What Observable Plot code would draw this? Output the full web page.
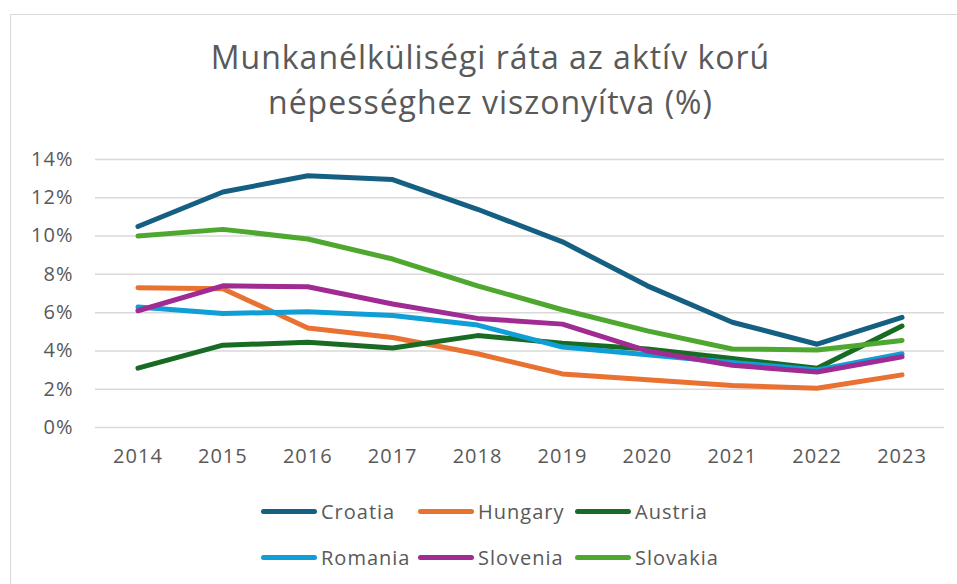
<!DOCTYPE html>
<html>
<head>
<meta charset="utf-8">
<script src="https://cdn.jsdelivr.net/npm/d3@7"></script>
<script src="https://cdn.jsdelivr.net/npm/@observablehq/plot@0.6"></script>
<style>
  html, body { margin: 0; padding: 0; background: #fff; overflow: hidden; }
  #root { position: relative; width: 957px; height: 584px; font-family: "Open Sans", sans-serif; color: #595959; }
  #frame { position: absolute; left: 10px; top: 14px; width: 980px; height: 600px; border: 1.5px solid #d9d9d9; box-sizing: border-box; }
  #title { position: absolute; left: 0; top: 34px; width: 981px; text-align: center; font-size: 32px; line-height: 45px; letter-spacing: 1px; }
  #plot { position: absolute; left: 0; top: 130px; }
  .leg { position: absolute; display: flex; align-items: center; font-size: 20px; height: 30px; letter-spacing: 1px; }
  .sw { width: 56px; height: 5px; border-radius: 3px; margin-right: 4px; }
</style>
</head>
<body>
<div id="root">
  <div id="frame"></div>
  <div id="title">Munkanélküliségi ráta az aktív korú<br>népességhez viszonyítva (%)</div>
  <div id="plot"></div>
  <div id="legend"></div>
</div>
<script>
const years = [2014, 2015, 2016, 2017, 2018, 2019, 2020, 2021, 2022, 2023];
const countries = ["Croatia", "Hungary", "Austria", "Romania", "Slovenia", "Slovakia"];
const colors = ["#156082", "#E97132", "#196B24", "#0F9ED5", "#A02B93", "#4EA72E"];
const croatia  = [10.5, 12.3, 13.15, 12.95, 11.4, 9.7, 7.4, 5.5, 4.35, 5.75];
const hungary  = [7.3, 7.25, 5.2, 4.7, 3.85, 2.8, 2.5, 2.2, 2.05, 2.75];
const austria  = [3.1, 4.3, 4.45, 4.15, 4.8, 4.4, 4.1, 3.6, 3.1, 5.3];
const romania  = [6.3, 5.95, 6.05, 5.85, 5.35, 4.2, 3.8, 3.4, 3.0, 3.85];
const slovenia = [6.1, 7.4, 7.35, 6.45, 5.7, 5.4, 4.0, 3.25, 2.9, 3.7];
const slovakia = [10.0, 10.35, 9.85, 8.8, 7.4, 6.15, 5.05, 4.1, 4.05, 4.55];
const yTicks = [0, 2, 4, 6, 8, 10, 12, 14];

const series = [croatia, hungary, austria, romania, slovenia, slovakia];
const rows = [];
countries.forEach((c, i) => years.forEach((y, j) => rows.push({country: c, year: y, value: series[i][j]})));

const chart = Plot.plot({
  width: 957,
  height: 350,
  marginLeft: 95,
  marginRight: 13,
  marginTop: 29,
  marginBottom: 53,
  style: {fontFamily: "Open Sans, sans-serif", background: "transparent", letterSpacing: "1px"},
  x: {domain: [2013.5, 2023.5]},
  y: {domain: [0, 14]},
  color: {domain: countries, range: colors},
  marks: [
    Plot.ruleY(yTicks, {stroke: "#d9d9d9", strokeWidth: 1.5}),
    Plot.axisY({ticks: yTicks, tickSize: 0, tickPadding: 22, tickFormat: d => d + "%", fontSize: 20, fill: "#595959", label: null}),
    Plot.axisX({ticks: years, tickSize: 0, tickPadding: 21, tickFormat: d => String(d), fontSize: 20, fill: "#595959", label: null}),
    Plot.line(rows, {x: "year", y: "value", z: "country", stroke: "country", strokeWidth: 5, strokeLinejoin: "round", strokeLinecap: "round"})
  ]
});
document.getElementById("plot").appendChild(chart);

const legendPos = [[261, 511], [418, 511], [575, 511], [261, 557], [418, 557], [575, 557]];
const legend = document.getElementById("legend");
countries.forEach((c, i) => {
  const d = document.createElement("div");
  d.className = "leg";
  d.style.left = legendPos[i][0] + "px";
  d.style.top = (legendPos[i][1] - 15) + "px";
  d.innerHTML = `<div class="sw" style="background:${colors[i]}"></div><span>${c}</span>`;
  legend.appendChild(d);
});
</script>
</body>
</html>
